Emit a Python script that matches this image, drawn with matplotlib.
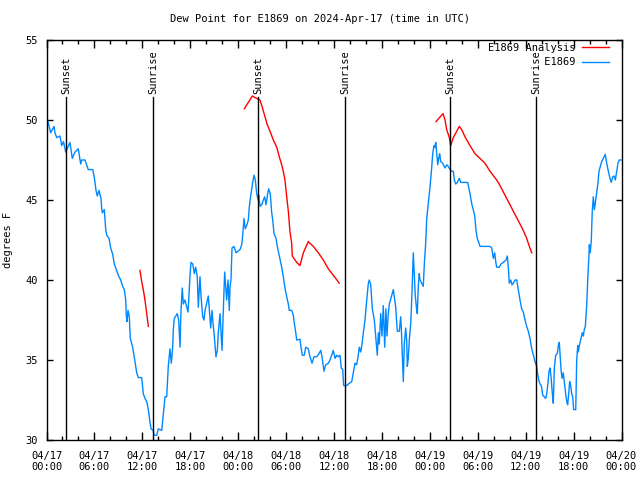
import matplotlib
matplotlib.use('Agg')
import matplotlib.pyplot as plt
import numpy as np

# hours since 2024-04-17 00:00 UTC, dew point in degrees F
obs_hours = [0.10, 0.23, 0.53, 0.94, 1.06, 1.28, 1.69, 1.90, 2.13, 2.40, 2.94, 3.23, 3.57, 3.98, 4.28, 4.41,
             4.82, 5.23, 5.79, 5.99, 6.20, 6.36, 6.57, 6.82, 6.91, 6.99, 7.24, 7.41, 7.54, 7.83, 8.04, 8.29,
             8.49, 8.70, 8.99, 9.29, 9.54, 9.74, 9.92, 9.99, 10.08, 10.21, 10.37, 10.49, 10.79, 11.08, 11.30,
             11.50, 11.92, 12.12, 12.33, 12.55, 12.75, 12.96, 13.09, 13.37, 13.46, 13.80, 14.00, 14.43, 14.63,
             14.84, 15.05, 15.25, 15.46, 15.63, 15.80, 15.88, 16.00, 16.38, 16.55, 16.72, 16.84, 17.00, 17.13,
             17.34, 17.56, 17.72, 17.81, 17.97, 18.09, 18.31, 18.51, 18.68, 18.88, 19.01, 19.22, 19.35, 19.56,
             19.72, 19.85, 20.26, 20.39, 20.56, 20.72, 20.89, 21.01, 21.22, 21.39, 21.51, 21.73, 21.81, 21.98,
             22.14, 22.31, 22.56, 22.73, 22.89, 22.98, 23.10, 23.23, 23.48, 23.73, 24.23, 24.44, 24.57, 24.73,
             24.89, 25.07, 25.27, 25.40, 25.61, 25.82, 25.98, 26.15, 26.32, 26.49, 26.57, 26.74, 26.95, 27.15,
             27.32, 27.49, 27.70, 27.82, 28.02, 28.20, 28.33, 28.49, 28.74, 28.90, 29.15, 29.45, 29.65, 29.86,
             30.08, 30.28, 30.40, 30.70, 30.90, 31.03, 31.16, 31.33, 31.74, 31.87, 32.03, 32.28, 32.46, 32.78,
             33.00, 33.25, 33.50, 33.84, 34.12, 34.34, 34.50, 34.75, 34.96, 35.29, 35.50, 35.71, 35.91, 36.13,
             36.34, 36.54, 36.75, 36.91, 37.09, 37.21, 37.59, 37.92, 38.22, 38.42, 38.63, 38.84, 39.01, 39.17,
             39.34, 39.51, 39.67, 39.88, 40.10, 40.30, 40.42, 40.60, 40.80, 41.05, 41.26, 41.42, 41.55, 41.67,
             41.85, 42.01, 42.17, 42.35, 42.50, 42.63, 42.78, 42.93, 43.43, 43.73, 43.85, 43.93, 44.18, 44.35,
             44.43, 44.60, 44.68, 44.80, 44.98, 45.10, 45.18, 45.30, 45.43, 45.61, 45.73, 45.86, 45.93, 46.02,
             46.18, 46.36, 46.43, 46.56, 46.68, 46.77, 47.18, 47.31, 47.48, 47.61, 47.81, 48.02, 48.23, 48.36,
             48.52, 48.65, 48.74, 48.86, 48.99, 49.11, 49.24, 49.36, 49.61, 49.90, 50.11, 50.31, 50.53, 50.74,
             50.94, 51.07, 51.24, 51.44, 51.69, 51.87, 52.74, 52.87, 53.03, 53.16, 53.32, 53.44, 53.62, 53.78,
             53.94, 54.16, 54.28, 55.53, 55.75, 55.95, 56.12, 56.25, 56.37, 56.70, 56.91, 57.20, 57.54, 57.70,
             57.83, 57.95, 58.13, 58.29, 58.45, 58.66, 58.88, 59.08, 59.29, 59.50, 59.70, 59.92, 60.13, 60.33,
             60.54, 60.76, 60.96, 61.17, 61.38, 61.51, 61.63, 61.80, 61.96, 62.14, 62.51, 62.64, 62.76, 62.93,
             63.05, 63.17, 63.34, 63.46, 63.59, 63.76, 63.96, 64.09, 64.21, 64.30, 64.43, 64.55, 64.71, 64.89,
             65.01, 65.14, 65.26, 65.39, 65.51, 65.64, 65.76, 65.89, 66.01, 66.27, 66.39, 66.52, 66.59, 66.72,
             66.93, 67.09, 67.22, 67.34, 67.47, 67.64, 67.77, 67.93, 67.97, 68.09, 68.22, 68.34, 68.47, 68.60,
             68.72, 68.90, 69.06, 69.18, 69.35, 69.52, 69.97, 70.15, 70.35, 70.56, 70.72, 70.90, 71.06, 71.23,
             71.40, 71.56, 71.72, 71.95]
obs_dewpt = [50.0, 49.8, 49.2, 49.6, 49.2, 48.9, 49.0, 48.4, 48.65, 48.0, 48.6, 47.6, 48.0, 48.2, 47.25, 47.5,
             47.5, 46.9, 46.9, 46.4, 45.6, 45.25, 45.6, 45.1, 44.5, 44.2, 44.4, 43.2, 42.8, 42.6, 42.0, 41.6,
             41.0, 40.7, 40.3, 40.0, 39.6, 39.4, 38.75, 37.8, 37.4, 38.1, 37.7, 36.35, 35.8, 34.9, 34.2,
             33.9, 33.9, 32.9, 32.6, 32.4, 31.9, 31.1, 30.7, 30.6, 30.3, 30.3, 30.7, 30.6, 31.6,
             32.7, 32.7, 34.6, 35.7, 34.8, 35.8, 36.9, 37.6, 37.9, 37.5, 35.8, 38.1, 39.5, 38.5,
             38.75, 38.3, 38.0, 38.75, 40.3, 41.1, 41.0, 40.4, 40.8, 40.2, 38.3, 40.2, 39.0, 37.7,
             37.5, 38.1, 39.0, 38.1, 37.0, 38.1, 37.1, 36.5, 35.2, 35.6, 36.7, 37.9, 37.1, 35.6,
             38.1, 40.5, 38.75, 40.0, 38.1, 39.6, 40.0, 42.0, 42.1, 41.7, 41.9, 42.2, 42.8, 43.85,
             43.2, 43.4, 43.75, 44.6, 45.4, 46.1, 46.55, 46.25, 45.4, 45.0, 45.3, 44.6, 44.7, 45.0,
             45.2, 44.7, 45.4, 45.7, 45.4, 44.2, 43.75, 42.9, 42.6, 42.1, 41.5, 40.8, 40.2, 39.5,
             38.95, 38.5, 38.1, 38.1, 37.8, 37.3, 36.9, 36.25, 36.3, 35.8, 35.3, 35.3, 35.8, 35.7,
             35.2, 34.8, 35.2, 35.2, 35.4, 35.6, 35.2, 34.3, 34.7, 34.8, 35.0, 35.3, 35.6, 35.1,
             35.3, 35.2, 35.3, 34.5, 34.4, 33.4, 33.4, 33.55, 33.65, 34.2, 34.8, 34.7, 35.2, 35.8,
             35.5, 36.0, 36.7, 37.5, 38.75, 39.8, 40.0, 39.7, 38.2, 37.5, 36.25, 35.3, 36.7, 36.0,
             37.9, 36.5, 38.4, 35.8, 38.2, 36.5, 37.8, 38.5, 39.4, 38.3, 37.3, 36.8, 36.8, 37.7,
             37.0, 34.7, 33.65, 36.0, 37.0, 36.25, 34.6, 35.1, 36.25, 37.3, 38.75, 40.6, 41.7, 40.7,
             39.0, 38.1, 37.9, 39.7, 40.4, 40.0, 39.6, 41.0, 42.3, 43.85, 44.8, 45.8, 47.0, 47.9,
             48.4, 48.3, 48.6, 47.9, 47.2, 47.6, 47.9, 47.4, 47.3, 47.0, 47.2, 47.1, 46.9, 46.8,
             46.8, 46.25, 46.0, 46.1, 46.35, 46.1, 46.1, 45.8, 45.4, 45.0, 44.6, 44.4, 44.0, 43.1,
             42.6, 42.3, 42.1, 42.1, 42.0, 41.35, 41.7, 41.15, 40.8, 40.8, 41.0, 41.1, 41.25, 41.5,
             40.8, 39.8, 40.0, 39.7, 39.8, 40.0, 40.0, 39.4, 38.75, 38.2, 38.0, 37.5, 37.1, 36.8,
             36.35, 35.7, 35.3, 34.9, 34.6, 34.1, 33.75, 33.5, 33.4, 32.8, 32.6, 32.9, 33.4, 34.3,
             34.5, 34.0, 32.9, 32.3, 34.5, 35.3, 35.4, 35.9, 36.1, 35.4, 34.4, 33.85, 34.2, 33.4,
             32.9, 32.4, 32.2, 32.9, 33.65, 33.4, 32.9, 32.7, 31.9, 31.9, 35.0, 35.9, 35.5, 35.9,
             36.35, 36.7, 36.5, 36.9, 37.1, 38.4, 40.0, 41.6, 42.2, 41.7, 42.5, 44.3, 45.2, 44.4,
             44.8, 45.5, 46.1, 46.8, 47.1, 47.4, 47.85, 47.3, 46.8, 46.35, 46.1, 46.45, 46.5, 46.25,
             46.8, 47.3, 47.5, 47.5]

# analysis runs (three separate pieces)
ana1_hours = [11.71, 11.92, 12.12, 12.33, 12.55, 12.75]
ana1_dewpt = [40.6, 39.9, 39.4, 38.75, 37.9, 37.1]
ana2_hours = [24.77, 25.27, 25.77, 26.32, 26.73, 27.02, 27.36, 27.65, 27.99, 28.40, 28.83, 29.15, 29.45,
              29.65, 29.86, 30.08, 30.28, 30.49, 30.70, 30.78, 31.33, 31.74, 32.16, 32.78, 33.41, 34.04,
              34.66, 35.29, 35.91, 36.66]
ana2_dewpt = [50.7, 51.1, 51.5, 51.35, 51.25, 50.8, 50.2, 49.7, 49.3, 48.75, 48.3, 47.7, 47.2,
              46.8, 46.25, 45.2, 44.3, 43.0, 42.3, 41.5, 41.1, 40.9, 41.7, 42.4, 42.1, 41.7,
              41.25, 40.7, 40.3, 39.8]
ana3_hours = [48.77, 49.65, 49.90, 50.11, 50.44, 50.61, 50.94, 51.37, 51.69, 51.99, 52.40, 53.03, 53.65,
              54.28, 54.90, 55.53, 56.37, 56.79, 57.41, 58.04, 58.66, 59.29, 59.70, 60.13, 60.46, 60.76]
ana3_dewpt = [49.9, 50.4, 50.0, 49.4, 48.9, 48.4, 48.9, 49.3, 49.6, 49.4, 48.95, 48.4, 47.9,
              47.6, 47.3, 46.8, 46.25, 45.9, 45.3, 44.7, 44.1, 43.5, 43.1, 42.6, 42.1, 41.7]

sun_hours = [2.48, 13.38, 26.50, 37.40, 50.53, 61.35]
sun_labels = ['Sunset', 'Sunrise', 'Sunset', 'Sunrise', 'Sunset', 'Sunrise']

tick_hours = list(range(0, 73, 6))
tick_labels = ['04/17\n00:00', '04/17\n06:00', '04/17\n12:00', '04/17\n18:00',
               '04/18\n00:00', '04/18\n06:00', '04/18\n12:00', '04/18\n18:00',
               '04/19\n00:00', '04/19\n06:00', '04/19\n12:00', '04/19\n18:00',
               '04/20\n00:00']

plt.rcParams['font.family'] = 'DejaVu Sans Mono'
fs = 7.5

fig = plt.figure(figsize=(6.4, 4.8), dpi=100)
ax = fig.add_axes([46.5/640, 40/480, 575/640, 400/480])

ax.plot(ana1_hours, ana1_dewpt, color='#ff0000', lw=1.0, label='E1869 Analysis')
ax.plot(ana2_hours, ana2_dewpt, color='#ff0000', lw=1.0)
ax.plot(ana3_hours, ana3_dewpt, color='#ff0000', lw=1.0)
# pad the short label so both legend texts end flush right (monospace font)
ax.plot(obs_hours, obs_dewpt, color='#0088ff', lw=1.0, label='         E1869')

for h, s in zip(sun_hours, sun_labels):
    ax.plot([h, h], [30, 51.45], color='black', lw=1.0)
    ax.text(h, 51.65, s, rotation=90, ha='center', va='bottom', fontsize=fs)

ax.set_xlim(0, 72)
ax.set_ylim(30, 55)
ax.set_xticks(tick_hours)
ax.set_xticklabels(tick_labels, fontsize=fs, linespacing=1.15)
ax.set_xticks(np.arange(0, 73, 2), minor=True)
ax.set_yticks([30, 35, 40, 45, 50, 55])
ax.tick_params(axis='y', labelsize=fs, pad=6)
ax.tick_params(axis='x', pad=8)
ax.tick_params(which='both', direction='in', top=True, right=True, width=1.0)
ax.tick_params(which='major', length=6)
ax.tick_params(which='minor', length=3)
ax.tick_params(axis='y', which='major', length=4.5)
for sp in ax.spines.values():
    sp.set_linewidth(1.0)

ax.set_ylabel('degrees F', fontsize=fs, labelpad=9)
fig.text(0.5, 1 - 19/480, 'Dew Point for E1869 on 2024-Apr-17 (time in UTC)',
         ha='center', va='center', fontsize=fs)

fig.legend(loc='upper right', bbox_to_anchor=(609/640, 1 - 43/480), frameon=False,
           markerfirst=False, fontsize=fs, handlelength=2.6, handletextpad=0.6,
           labelspacing=0.4, borderpad=0, borderaxespad=0)

fig.savefig('out.png', dpi=100)
